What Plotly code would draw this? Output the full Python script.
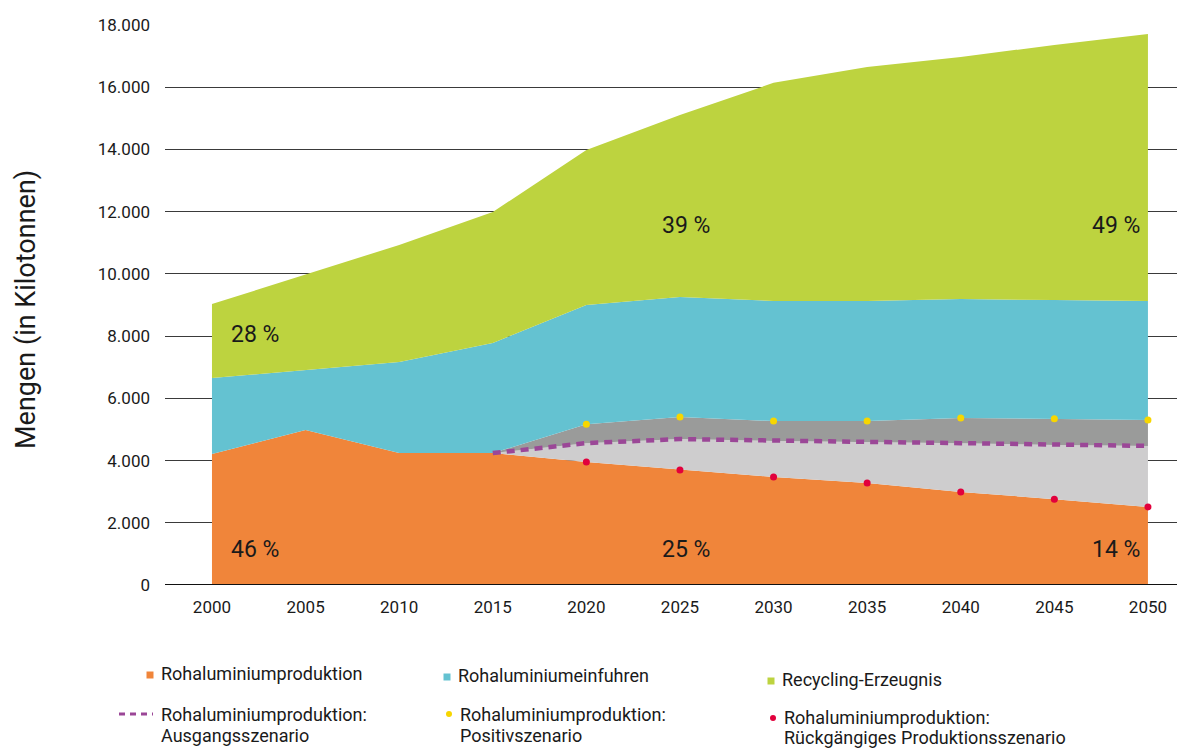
import plotly.graph_objects as go

years = [2000, 2005, 2010, 2015, 2020, 2025, 2030, 2035, 2040, 2045, 2050]
# Rohaluminiumproduktion (historical until 2015, then "Rückgängiges Produktionsszenario")
production_low = [4210, 4980, 4240, 4240, 3950, 3700, 3470, 3280, 2990, 2760, 2510]
scen_years = [2015, 2020, 2025, 2030, 2035, 2040, 2045, 2050]
baseline = [4240, 4560, 4690, 4630, 4600, 4560, 4500, 4470]
positive = [4240, 5170, 5400, 5270, 5270, 5370, 5340, 5300]
reduction = [4240, 3950, 3700, 3470, 3280, 2990, 2760, 2510]
imports_top = [6650, 6910, 7170, 7780, 9000, 9260, 9130, 9130, 9190, 9160, 9130]
total = [9030, 9980, 10930, 11990, 13980, 15110, 16140, 16650, 16970, 17360, 17710]

y_ticks = [0, 2000, 4000, 6000, 8000, 10000, 12000, 14000, 16000, 18000]
y_ticktext = ["0", "2.000", "4.000", "6.000", "8.000", "10.000", "12.000", "14.000", "16.000", "18.000"]

share_labels = [(2002.3, 8040, "28 %"), (2002.3, 1130, "46 %"),
                (2025.3, 11540, "39 %"), (2025.3, 1130, "25 %"),
                (2048.3, 11540, "49 %"), (2048.3, 1130, "14 %")]

C_ORANGE = "#F0853A"
C_BLUE = "#64C2D1"
C_GREEN = "#BDD33F"
C_DGREY = "#9A9B9A"
C_LGREY = "#CECDCE"
C_PURPLE = "#9B4797"
C_YELLOW = "#F7D600"
C_RED = "#E2003C"

# full-range series for stacked fills
hist = dict(zip(years, production_low))
base_map = dict(zip(scen_years, baseline))
pos_map = dict(zip(scen_years, positive))
light_top = [base_map[y] if y in base_map else hist[y] for y in years]
dark_top = [pos_map[y] if y in pos_map else hist[y] for y in years]

fig = go.Figure()
noline = dict(width=0)
fig.add_trace(go.Scatter(x=years, y=production_low, mode="lines", line=noline,
                         fill="tozeroy", fillcolor=C_ORANGE, name="Rohaluminiumproduktion",
                         showlegend=False, hoverinfo="skip"))
fig.add_trace(go.Scatter(x=years, y=light_top, mode="lines", line=noline,
                         fill="tonexty", fillcolor=C_LGREY, showlegend=False, hoverinfo="skip"))
fig.add_trace(go.Scatter(x=years, y=dark_top, mode="lines", line=noline,
                         fill="tonexty", fillcolor=C_DGREY, showlegend=False, hoverinfo="skip"))
fig.add_trace(go.Scatter(x=years, y=imports_top, mode="lines", line=noline,
                         fill="tonexty", fillcolor=C_BLUE, name="Rohaluminiumeinfuhren",
                         showlegend=False, hoverinfo="skip"))
fig.add_trace(go.Scatter(x=years, y=total, mode="lines", line=noline,
                         fill="tonexty", fillcolor=C_GREEN, name="Recycling-Erzeugnis",
                         showlegend=False, hoverinfo="skip"))
fig.add_trace(go.Scatter(x=scen_years, y=baseline, mode="lines",
                         line=dict(color=C_PURPLE, width=4.5, dash="8px,6px"),
                         name="Rohaluminiumproduktion: Ausgangsszenario", showlegend=False))
fig.add_trace(go.Scatter(x=scen_years[1:], y=positive[1:], mode="markers",
                         marker=dict(color=C_YELLOW, size=7),
                         name="Rohaluminiumproduktion: Positivszenario", showlegend=False))
fig.add_trace(go.Scatter(x=scen_years[1:], y=reduction[1:], mode="markers",
                         marker=dict(color=C_RED, size=7),
                         name="Rohaluminiumproduktion: Rückgängiges Produktionsszenario", showlegend=False))

for x, y, t in share_labels:
    fig.add_annotation(x=x, y=y, text=t, showarrow=False, xref="x", yref="y",
                       font=dict(size=23, color="#1a1a1a"))

FONT = "Roboto"
OFF = 8  # page body margin
W, H = 1185 - OFF, 749 - OFF
L, R, T, B = 165 - OFF, 0, 25 - OFF, 164

def px(xp):  # page pixel -> paper x
    return (xp - OFF - L) / (W - L - R)

def py(yp):  # page pixel -> paper y
    return 1 - (yp - OFF - T) / (H - T - B)

leg_font = dict(size=18, color="#1a1a1a", family=FONT)

def leg_text(xp, yp, txt):
    fig.add_annotation(xref="paper", yref="paper", x=px(xp), y=py(yp), text=txt,
                       showarrow=False, xanchor="left", yanchor="middle", font=leg_font)

# custom legend, row 1
squares = [(150, 675, C_ORANGE, "Rohaluminiumproduktion"),
           (447, 677, C_BLUE, "Rohaluminiumeinfuhren"),
           (771, 681, C_GREEN, "Recycling-Erzeugnis")]
for xc, yc, col, txt in squares:
    fig.add_shape(type="rect", xref="paper", yref="paper",
                  x0=px(xc - 3.5), x1=px(xc + 3.5), y0=py(yc + 3.5), y1=py(yc - 3.5),
                  fillcolor=col, line=dict(width=0))
    leg_text(xc + 9, yc - 2, txt)
# row 2
fig.add_shape(type="line", xref="paper", yref="paper", x0=px(119), x1=px(153),
              y0=py(714), y1=py(714), line=dict(color=C_PURPLE, width=3, dash="6px,5px"))
leg_text(159, 714, "Rohaluminiumproduktion:")
leg_text(159, 735, "Ausgangsszenario")
fig.add_shape(type="circle", xref="paper", yref="paper", x0=px(446), x1=px(452),
              y0=py(717), y1=py(711), fillcolor=C_YELLOW, line=dict(width=0))
leg_text(458, 714, "Rohaluminiumproduktion:")
leg_text(458, 735, "Positivszenario")
fig.add_shape(type="circle", xref="paper", yref="paper", x0=px(770), x1=px(776),
              y0=py(721), y1=py(715), fillcolor=C_RED, line=dict(width=0))
leg_text(782, 717, "Rohaluminiumproduktion:")
leg_text(782, 737, "Rückgängiges Produktionsszenario")

# y-axis title
fig.add_annotation(xref="paper", yref="paper", x=px(26), y=py(310), text="Mengen (in Kilotonnen)",
                   textangle=-90, showarrow=False, xanchor="center", yanchor="middle",
                   font=dict(size=27, color="#1a1a1a", family=FONT))

fig.update_layout(
    width=W, height=H,
    margin=dict(l=L, r=R, t=T, b=B, autoexpand=False),
    plot_bgcolor="white", paper_bgcolor="white",
    font=dict(family=FONT, size=17, color="#1a1a1a"),
    showlegend=False,
    xaxis=dict(range=[1997.49, 2051.98], tickvals=years, ticktext=[str(y) for y in years],
               showgrid=False, zeroline=False, showline=False, ticks="",
               ticklabelstandoff=10, tickfont=dict(size=17)),
    yaxis=dict(range=[0, 18000], tickvals=y_ticks, ticktext=y_ticktext,
               showgrid=True, gridcolor="#3a3a3a", gridwidth=1, zeroline=False,
               showline=False, ticks="", ticklabelstandoff=14, tickfont=dict(size=17)),
)
fig.add_shape(type="line", xref="paper", yref="y", x0=0, x1=1, y0=0, y1=0,
              line=dict(color="#111111", width=2), layer="above")

fig.write_html("out.html")
